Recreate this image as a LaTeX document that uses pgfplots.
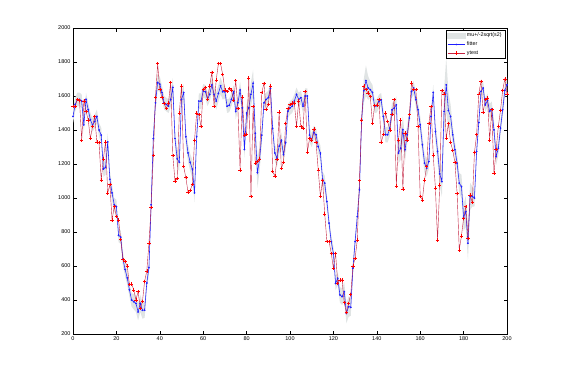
\documentclass[border=0pt]{standalone}
\usepackage{fontspec}
\setmainfont{Liberation Sans}
\usepackage{pgfplots}
\pgfplotsset{compat=1.18}
\usepackage{pgfplotstable}

\definecolor{bandgray}{RGB}{224,228,228}
\definecolor{fitblue}{RGB}{30,30,255}
\definecolor{testred}{RGB}{195,35,65}

% x, ytest, fitter, half width of the band
\pgfplotstableread{
x yt f w
0 1540 1480 40
1 1540 1550 40
2 1580 1580 40
3 1575 1580 40
4 1340 1570 40
5 1570 1430 40
6 1510 1580 40
7 1460 1520 40
8 1350 1460 40
9 1420 1430 40
10 1480 1450 40
11 1330 1480 40
12 1325 1400 40
13 1105 1370 45
14 1230 1170 45
15 1330 1180 45
16 1030 1330 50
17 1080 1110 50
18 870 1030 45
19 950 960 40
20 890 950 40
21 870 780 40
22 755 770 40
23 640 640 40
24 625 580 40
25 600 530 40
26 490 460 40
27 495 400 40
28 460 390 45
29 400 380 50
30 450 330 50
31 350 380 50
32 390 340 50
33 510 340 45
34 570 500 40
35 735 590 40
36 945 960 40
37 1250 1350 40
38 1590 1560 45
39 1790 1680 50
40 1640 1670 45
41 1590 1620 40
42 1555 1560 40
43 1525 1550 40
44 1560 1540 40
45 1680 1580 45
46 1250 1650 55
47 1100 1350 55
48 1115 1230 55
49 1500 1210 50
50 1660 1580 45
51 1185 1620 50
52 1120 1360 50
53 1035 1265 50
54 1045 1210 50
55 1080 1170 55
56 1340 1030 55
57 1500 1360 50
58 1490 1570 45
59 1420 1570 45
60 1640 1630 40
61 1650 1625 40
62 1580 1580 40
63 1660 1610 40
64 1740 1665 45
65 1540 1610 45
66 1695 1570 50
67 1790 1615 50
68 1790 1660 50
69 1725 1625 45
70 1635 1625 40
71 1625 1540 40
72 1645 1545 40
73 1635 1580 40
74 1575 1625 40
75 1690 1510 45
76 1525 1560 45
77 1165 1635 50
78 1595 1530 50
79 1370 1285 50
80 1375 1500 50
81 1705 1530 55
82 1010 1610 70
83 1540 1675 80
84 1205 1380 90
85 1215 1150 90
86 1230 1230 70
87 1620 1370 55
88 1675 1560 45
89 1520 1580 40
90 1550 1590 40
91 1660 1645 40
92 1155 1410 45
93 1130 1265 50
94 1225 1235 50
95 1505 1305 50
96 1175 1340 45
97 1210 1255 45
98 1440 1325 45
99 1525 1510 40
100 1550 1530 40
101 1560 1540 40
102 1560 1570 40
103 1420 1610 40
104 1570 1580 40
105 1420 1590 40
106 1410 1540 40
107 1625 1600 45
108 1270 1600 45
109 1350 1370 45
110 1342 1340 40
111 1405 1386 40
112 1327 1372 40
113 1166 1303 40
114 1009 1264 45
115 1103 1111 45
116 907 1087 45
117 744 979 40
118 744 852 40
119 675 744 40
120 587 675 40
121 675 498 40
122 498 528 40
123 518 430 45
124 518 420 50
125 384 449 55
126 325 322 60
127 380 361 60
128 434 357 50
129 600 587 40
130 645 744 40
131 753 891 40
132 1103 1048 40
133 1460 1460 50
134 1660 1631 70
135 1637 1690 90
136 1617 1647 70
137 1598 1637 50
138 1440 1621 45
139 1543 1539 40
140 1548 1543 40
141 1578 1568 40
142 1327 1578 40
143 1372 1480 45
144 1500 1372 45
145 1450 1372 45
146 1401 1411 45
147 1490 1519 40
148 1578 1529 40
149 1071 1548 50
150 1342 1264 60
151 1460 1293 70
152 1052 1401 80
153 1382 1284 70
154 1342 1372 55
155 1490 1470 45
156 1676 1627 40
157 1637 1647 40
158 1637 1578 40
159 1421 1519 45
160 1009 1431 50
161 989 1313 55
162 1107 1205 55
163 1185 1176 50
164 1440 1215 45
165 1539 1480 40
166 1254 1621 45
167 1058 1392 55
168 753 1274 65
169 1077 1142 70
170 1633 1097 90
171 1613 1509 130
172 1352 1666 160
173 1440 1515 110
174 1327 1480 70
175 1280 1372 50
176 1209 1284 45
177 1028 1205 50
178 695 1087 60
179 777 1068 70
180 881 887 80
181 950 920 90
182 763 734 100
183 1018 1009 80
184 973 1009 60
185 1268 999 50
186 1372 1274 45
187 1613 1444 40
188 1686 1627 40
189 1503 1647 40
190 1578 1548 40
191 1588 1574 40
192 1342 1509 45
193 1519 1523 45
194 1146 1401 50
195 1284 1244 50
196 1421 1293 45
197 1515 1411 40
198 1633 1519 40
199 1700 1633 40
200 1613 1666 40
}\data

\begin{document}
\begin{tikzpicture}
\path[use as bounding box] (0,0) rectangle (561pt,376pt);
\begin{axis}[
  at={(73pt,42pt)}, anchor=south west,
  scale only axis,
  width=434pt, height=306pt,
  xmin=0, xmax=200, ymin=200, ymax=2000,
  xtick={0,20,...,200},
  ytick={200,400,...,2000},
  tick align=inside,
  major tick length=3.5pt,
  axis line style={line width=0.5pt},
  tick style={line width=0.4pt, black},
  tick label style={font=\fontsize{5.5}{6}\selectfont},
  xticklabel style={yshift=1pt},
  yticklabel style={xshift=1pt},
  /pgf/number format/assume math mode=true,
  /pgf/number format/1000 sep={},
  legend cell align=left,
  legend style={at={(0.996,0.994)}, anchor=north east,
    font=\fontsize{5.3}{6.5}\selectfont, draw=black, line width=0.4pt,
    inner xsep=1.5pt, inner ysep=1pt, row sep=-0.5pt},
  legend image post style={line width=0.4pt},
]
\addplot[stack plots=y, draw=none, forget plot]
  table[x=x, y expr=\thisrow{f}-\thisrow{w}] {\data};
\addplot[stack plots=y, fill=bandgray, draw=none, forget plot]
  table[x=x, y expr=2*\thisrow{w}] {\data} \closedcycle;
\addlegendimage{area legend, fill=bandgray, draw=bandgray}
\addlegendentry{mu+/-2sqrt(s2)}
\addplot[stack plots=false, fitblue, line width=0.55pt, mark=*, mark size=0.6pt,
  mark options={fill=fitblue, draw=fitblue}] table[x=x, y=f] {\data};
\addlegendentry{fitter}
\addplot[stack plots=false, testred, line width=0.4pt, mark=+, mark size=1.7pt,
  mark options={red, line width=0.55pt}] table[x=x, y=yt] {\data};
\addlegendentry{ytest}
\end{axis}
\end{tikzpicture}
\end{document}
